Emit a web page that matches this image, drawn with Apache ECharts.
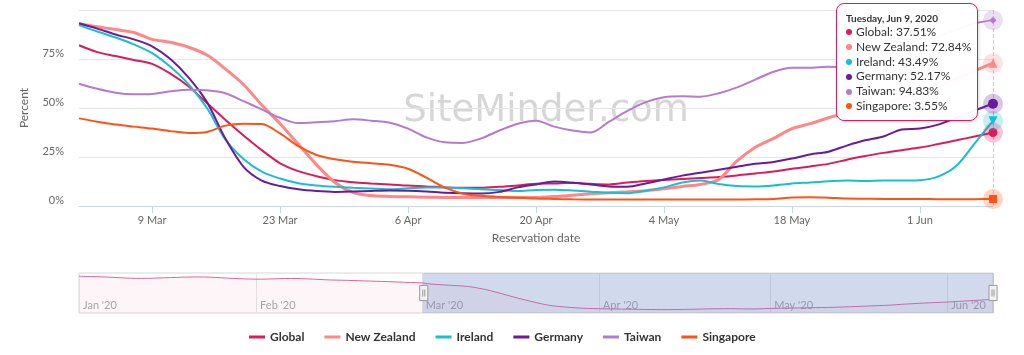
<!DOCTYPE html>
<html>
<head>
<meta charset="utf-8">
<script src="https://cdn.jsdelivr.net/npm/echarts@6/dist/echarts.min.js"></script>
<style>
  html, body { margin: 0; padding: 0; background: #fff; }
  #chart { width: 1024px; height: 355px; }
</style>
</head>
<body>
<div id="chart"></div>
<script>
const DAY = 86400000
const START = Date.UTC(2020, 0, 1)
const MONTHS = ['Jan', 'Feb', 'Mar', 'Apr', 'May', 'Jun', 'Jul', 'Aug', 'Sep', 'Oct', 'Nov', 'Dec']
const WEEKDAYS = ['Sunday', 'Monday', 'Tuesday', 'Wednesday', 'Thursday', 'Friday', 'Saturday']

// one point every second day, 1 Jan – 9 Jun 2020
const dates = Array.from({ length: 81 }, (_, i) => START + i * 2 * DAY)
const categories = dates.map((t) => {
  const d = new Date(t)
  return d.getUTCDate() + ' ' + MONTHS[d.getUTCMonth()]
})

// Global before 1 Mar (only visible in the navigator)
const globalEarly = [100, 99.3, 98.6, 97, 95.5, 94.5, 94.5, 95.5, 96.5, 97.5, 98.2, 98, 96.8, 95, 93.5,
  92.5, 92.2, 93, 94, 94, 93, 91.5, 90, 89.4, 88.5, 87.5, 86.5, 85.5, 84.3, 83]

// 1 Mar – 9 Jun
const global = [82, 78.5, 76.5, 74.5, 72.5, 67.5, 61, 52.5, 44, 36, 28.5, 21.8, 17.8, 15.2, 13.2, 12.1, 11.5,
  11, 10.4, 10, 9.5, 9.3, 9.3, 9.8, 10.5, 11.3, 11.5, 11.8, 11.3, 11, 12, 12.8, 13.3, 13.8, 14.3, 14.8, 15.6,
  16.6, 17.6, 19, 20.2, 21.5, 23.6, 25.5, 27.1, 28.5, 29.8, 31.6, 33.5, 35.5, 37.51]
const newZealand = [93, 91.5, 90, 88.5, 85, 83.5, 81, 77, 70, 62, 51.5, 42, 31.5, 21, 12, 6.8, 5.3, 4.9, 4.7,
  4.5, 4.4, 4.3, 4.3, 4.3, 4.4, 4.3, 4.8, 5.5, 6.2, 6.8, 7.3, 7.8, 8.8, 10, 11, 13.5, 23, 30, 34.5, 39.5, 42,
  45, 47.5, 49.5, 52, 55, 58, 61.5, 65, 69, 72.84]
const ireland = [92.3, 89, 86, 82.5, 78, 71, 62, 50, 34, 24, 17.5, 14, 11.6, 10.5, 9.8, 9.3, 8.9, 8.5, 9, 9.4,
  9.4, 9, 8.6, 8.2, 7.6, 8.2, 8.3, 7.9, 7.3, 6.7, 6.5, 7.8, 9.5, 12, 13, 11.2, 10.2, 10, 10.5, 11.5, 12, 12.6,
  13, 12.8, 13, 13, 13.2, 15, 20.5, 32, 43.49]
const germany = [93.2, 90.5, 87.5, 85, 81.5, 75, 65.5, 53, 34.5, 20, 13, 10.2, 8.5, 7.6, 7.2, 7.4, 7.7, 7.9,
  7.8, 7.4, 6.8, 6.5, 6.4, 7.2, 9.5, 11, 12.5, 11.9, 11, 10, 9.8, 11.5, 13.5, 15.5, 17, 18.5, 20, 21.5, 22.5,
  24.2, 26.3, 27.7, 30.8, 33.5, 35.5, 39, 39.5, 41.5, 45, 48.8, 52.17]
const taiwan = [62.4, 59.8, 57.8, 57, 57.2, 58.5, 59.3, 59, 57.5, 53.5, 49.3, 45, 42.3, 42.7, 43.3, 44.2, 43.5,
  42.5, 39.5, 35, 32.5, 32.2, 34.5, 38.5, 42, 43.5, 40.5, 38.5, 37.5, 43, 48.5, 53, 55.5, 56, 55.8, 57.5, 60.5,
  64.5, 68.5, 70.5, 70.5, 71, 70.6, 73, 76, 79.5, 83, 86.5, 90, 93.2, 94.83]
const singapore = [44.7, 43, 41.6, 40.5, 39.5, 38.2, 37.3, 37.8, 41, 42, 41.8, 37, 30.5, 26, 23.8, 22.6, 21.8,
  21, 19, 14.5, 9.5, 6.3, 5.2, 4.6, 4.2, 3.8, 3.6, 3.4, 3.3, 3.3, 3.3, 3.3, 3.3, 3.3, 3.3, 3.3, 3.3, 3.4, 3.6,
  4.3, 4.5, 4.2, 3.8, 3.7, 3.6, 3.6, 3.6, 3.5, 3.5, 3.5, 3.55]

const yTicks = [0, 25, 50, 75, 100]

const pad = (values) => new Array(globalEarly.length).fill(null).concat(values)
const globalAll = globalEarly.concat(global)

const lines = [
  { name: 'Global', data: globalAll, color: '#dd1a5a', symbol: 'circle', size: 9 },
  { name: 'New Zealand', data: pad(newZealand), color: '#ff8787', symbol: 'triangle', size: 9, width: 3 },
  { name: 'Ireland', data: pad(ireland), color: '#18bfd1', symbol: 'triangle', size: 9, rotate: 180 },
  { name: 'Germany', data: pad(germany), color: '#6a1b9a', symbol: 'circle', size: 10 },
  { name: 'Taiwan', data: pad(taiwan), color: '#b57ad0', symbol: 'diamond', size: 7 },
  { name: 'Singapore', data: pad(singapore), color: '#ff5216', symbol: 'rect', size: 8 },
]

const last = dates.length - 1
const firstShown = globalEarly.length
// label every two weeks, from 9 Mar
const everyTwoWeeks = (idx) => idx >= firstShown && (idx - (firstShown + 4)) % 7 === 0

const chart = echarts.init(document.getElementById('chart'))

const option = {
  animation: false,
  useUTC: true,
  textStyle: { fontFamily: 'Lato' },
  graphic: [
    {
      type: 'text',
      x: 546,
      y: 111,
      z: 0,
      silent: true,
      style: {
        text: 'SiteMinder.com',
        align: 'center',
        verticalAlign: 'middle',
        fill: '#d6d6d6',
        font: '37px "DejaVu Sans"',
      },
    },
  ],
  grid: [
    { left: 79, right: 31, top: 10, height: 196, outerBoundsMode: 'none' },
    {
      left: 79, right: 31, top: 273, height: 40, outerBoundsMode: 'none',
      show: true, borderColor: '#d8d8d8', borderWidth: 1, backgroundColor: 'transparent',
    },
  ],
  xAxis: [
    {
      type: 'category',
      gridIndex: 0,
      data: categories,
      boundaryGap: false,
      name: 'Reservation date',
      nameLocation: 'middle',
      nameGap: 26,
      nameTextStyle: { color: '#666', fontSize: 12 },
      axisLine: { lineStyle: { color: '#ccd6eb' } },
      axisTick: { interval: everyTwoWeeks, length: 7, lineStyle: { color: '#ccd6eb' } },
      axisLabel: { interval: everyTwoWeeks, color: '#666', fontSize: 11, margin: 9 },
      axisPointer: { z: 1 },
      splitLine: { show: false },
    },
    {
      type: 'time',
      gridIndex: 1,
      min: dates[0],
      max: dates[last],
      splitNumber: 5,
      axisLine: { show: false },
      axisTick: { show: false },
      splitLine: { show: true, lineStyle: { color: '#e6e6e6' } },
      axisLabel: {
        inside: true,
        align: 'left',
        margin: 2,
        padding: [0, 0, 0, 4],
        color: '#a8a8a8',
        fontSize: 11,
        formatter: (v) => {
          const d = new Date(v)
          if (d.getUTCDate() !== 1) return ''
          return MONTHS[d.getUTCMonth()] + " '" + String(d.getUTCFullYear()).slice(2)
        },
      },
    },
  ],
  yAxis: [
    {
      type: 'value',
      gridIndex: 0,
      min: yTicks[0],
      max: yTicks[yTicks.length - 1],
      interval: 25,
      name: 'Percent',
      nameLocation: 'middle',
      nameGap: 49,
      nameRotate: 90,
      nameTextStyle: { color: '#666', fontSize: 12 },
      axisLine: { show: false },
      axisTick: { show: false },
      axisLabel: {
        color: '#666',
        fontSize: 11,
        margin: 15,
        verticalAlign: 'bottom',
        formatter: (v) => (v === 100 ? '' : v + '%'),
      },
      splitLine: { lineStyle: { color: '#e6e6e6' } },
    },
    { type: 'value', gridIndex: 1, min: 0, max: 109, show: false },
  ],
  dataZoom: [
    {
      type: 'slider',
      xAxisIndex: 0,
      startValue: categories[firstShown],
      endValue: categories[last],
      left: 79,
      right: 31,
      top: 273,
      height: 40,
      backgroundColor: 'transparent',
      borderColor: 'transparent',
      fillerColor: 'rgba(102,133,194,0.3)',
      showDataShadow: false,
      showDetail: false,
      brushSelect: false,
      moveHandleSize: 0,
      moveHandleStyle: { opacity: 0 },
      handleIcon: 'path://M0,0H8V15H0Z M3,4V11 M5,4V11',
      handleSize: '38%',
      handleStyle: { color: '#f2f2f2', borderColor: '#999', borderWidth: 1 },
      z: 10,
    },
  ],
  legend: {
    data: lines.map((l) => l.name),
    left: 244,
    top: 326,
    itemGap: 20,
    itemWidth: 16,
    itemHeight: 3,
    icon: 'rect',
    selectedMode: false,
    textStyle: { color: '#333', fontSize: 12, fontWeight: 'bold' },
  },
  tooltip: {
    trigger: 'axis',
    triggerOn: 'none',
    alwaysShowContent: true,
    transitionDuration: 0,
    position: [836, 3],
    backgroundColor: 'rgba(255,255,255,0.96)',
    borderColor: '#dd1a5a',
    borderWidth: 1,
    borderRadius: 8,
    padding: [7, 6, 6, 9],
    extraCssText: 'box-shadow: 1px 1px 3px rgba(0,0,0,0.15);',
    axisPointer: { type: 'line', z: 1, animation: false, label: { show: false }, lineStyle: { color: '#cccccc', width: 1 } },
    formatter: (params) => {
      const idx = categories.indexOf(params[0].axisValue)
      const d = new Date(dates[idx])
      const head = WEEKDAYS[d.getUTCDay()] + ', ' + MONTHS[d.getUTCMonth()] + ' ' + d.getUTCDate() + ', ' + d.getUTCFullYear()
      let html = '<div style="font:bold 10px Lato;color:#333;line-height:14px">' + head + '</div>'
      params.forEach((p) => {
        html += '<div style="font:12px Lato;color:#333;line-height:14.8px">' +
          '<span style="display:inline-block;width:6px;height:6px;border-radius:3px;margin:0 4px 1px 0;vertical-align:middle;background:' +
          p.color + '"></span>' + p.seriesName + ': ' + Number(p.value).toFixed(2) + '%</div>'
      })
      return html
    },
  },
  series: lines
    .map((l) => ({
      name: l.name,
      type: 'line',
      xAxisIndex: 0,
      yAxisIndex: 0,
      data: l.data,
      smooth: 0.3,
      symbol: 'none',
      showSymbol: false,
      color: l.color,
      lineStyle: { color: l.color, width: l.width || 2 },
      emphasis: { disabled: true },
      markPoint: {
        silent: true,
        z: 60,
        label: { show: false },
        data: [
          { coord: [categories[last], l.data[last]], symbol: 'circle', symbolSize: 20, itemStyle: { color: l.color, opacity: 0.25 } },
          {
            coord: [categories[last], l.data[last]], symbol: l.symbol, symbolSize: l.size,
            symbolRotate: l.rotate || 0, itemStyle: { color: l.color },
          },
        ],
      },
    }))
    .concat([
      {
        name: 'navigator',
        type: 'line',
        xAxisIndex: 1,
        yAxisIndex: 1,
        data: dates.map((t, i) => [t, globalAll[i]]),
        smooth: 0.3,
        symbol: 'none',
        silent: true,
        tooltip: { show: false },
        lineStyle: { color: '#e0649a', width: 1 },
        areaStyle: { color: 'rgba(221,26,90,0.06)' },
        z: 1,
      },
    ]),
}

chart.setOption(option)
chart.dispatchAction({ type: 'showTip', seriesIndex: 5, dataIndex: last })
</script>
</body>
</html>
